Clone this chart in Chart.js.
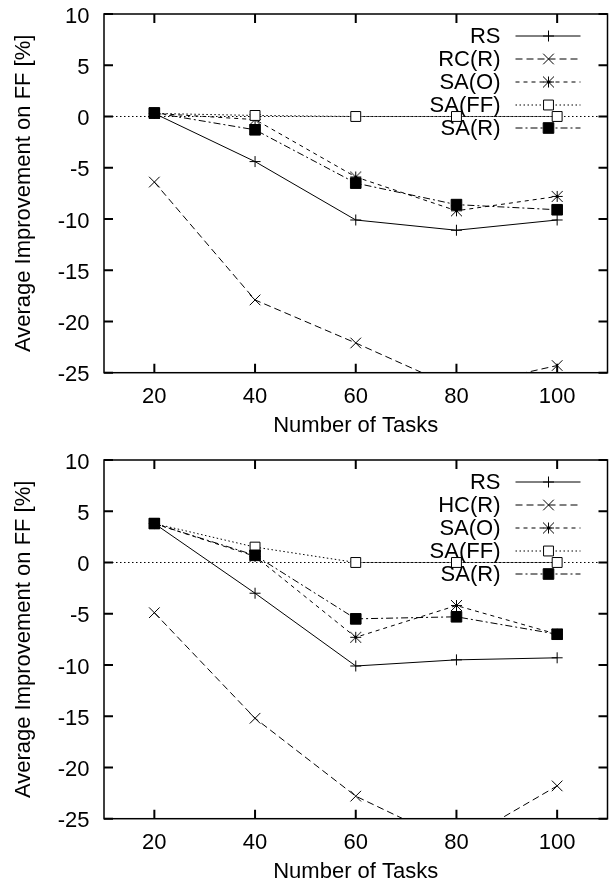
<!DOCTYPE html>
<html>
<head>
<meta charset="utf-8">
<script src="https://cdn.jsdelivr.net/npm/chart.js@4.4.1/dist/chart.umd.min.js"></script>
<style>
  html, body { margin: 0; padding: 0; background: #fff; }
  canvas { display: block; }
</style>
</head>
<body>
<canvas id="grafico-topo" width="616" height="446"></canvas>
<canvas id="grafico-base" width="616" height="446"></canvas>
<script>
const TAREFAS  = [20, 40, 60, 80, 100]
const X_TICKS  = [20, 40, 60, 80, 100]
const Y_TICKS  = [-25, -20, -15, -10, -5, 0, 5, 10]
const X_TITULO = 'Number of Tasks'
const Y_TITULO = 'Average Improvement on FF [%]'

// painel de cima
const TOPO_NOMES = ['RS', 'RC(R)', 'SA(O)', 'SA(FF)', 'SA(R)']
const TOPO_RS    = [0.3, -4.4, -10.1, -11.1, -10.1]
const TOPO_RC_R  = [-6.4, -17.9, -22.1, -26.5, -24.3]
const TOPO_SA_O  = [0.3, -0.3, -5.9, -9.2, -7.8]
const TOPO_SA_FF = [0.3, 0.1, 0, 0, 0]
const TOPO_SA_R  = [0.35, -1.3, -6.5, -8.6, -9.1]

// painel de baixo
const BASE_NOMES = ['RS', 'HC(R)', 'SA(O)', 'SA(FF)', 'SA(R)']
const BASE_RS    = [3.8, -3.0, -10.1, -9.5, -9.3]
const BASE_HC_R  = [-4.9, -15.2, -22.8, -27.5, -21.8]
const BASE_SA_O  = [3.8, 0.6, -7.3, -4.2, -7.0]
const BASE_SA_FF = [3.8, 1.5, 0, 0, 0]
const BASE_SA_R  = [3.8, 0.7, -5.5, -5.3, -7.0]

const FONTE = '"Liberation Sans", Arial, Helvetica, sans-serif'

// asterisco do gnuplot: + e x do mesmo tamanho
function criaAsterisco(s) {
  const c = document.createElement('canvas')
  const n = Math.ceil(s * 2 + 2)
  c.width = n; c.height = n
  const g = c.getContext('2d')
  const m = n / 2
  g.strokeStyle = '#000'
  g.lineWidth = 1
  g.beginPath()
  g.moveTo(m - s, m); g.lineTo(m + s, m)
  g.moveTo(m, m - s); g.lineTo(m, m + s)
  g.moveTo(m - s, m - s); g.lineTo(m + s, m + s)
  g.moveTo(m - s, m + s); g.lineTo(m + s, m - s)
  g.stroke()
  return c
}

// estilo de cada série (gnuplot: linha + marcador)
const ESTILOS = [
  { dash: [],           ponto: 'cross',            raio: 5.5, fundo: '#000' },
  { dash: [7, 4],       ponto: 'crossRot',         raio: 7.5, fundo: '#000' },
  { dash: [4, 4],       ponto: criaAsterisco(5.5), raio: 5.5, fundo: '#000' },
  { dash: [1.5, 2.5],   ponto: 'rect',             raio: 7,   fundo: '#fff' },
  { dash: [7, 3, 2, 3], ponto: 'rect',             raio: 7.5, fundo: '#000' },
]

Chart.defaults.font.family = FONTE
Chart.defaults.font.size = 22
Chart.defaults.color = '#000'

const decoracao = {
  id: 'decoracao',
  beforeDatasetsDraw(chart) {
    const { ctx, chartArea: a, scales } = chart
    const y0 = scales.y.getPixelForValue(0)
    ctx.save()
    ctx.strokeStyle = '#000'
    ctx.lineWidth = 1
    ctx.setLineDash([1.5, 2.5])
    ctx.beginPath(); ctx.moveTo(a.left, y0); ctx.lineTo(a.right, y0); ctx.stroke()
    ctx.restore()
  },
  afterDatasetsDraw(chart) {
    const { ctx, chartArea: a, scales } = chart
    ctx.save()
    ctx.strokeStyle = '#000'
    ctx.setLineDash([])
    // ticks para dentro, nos quatro lados
    ctx.lineWidth = 2
    const tl = 9
    ctx.beginPath()
    for (const v of X_TICKS) {
      const x = scales.x.getPixelForValue(v)
      ctx.moveTo(x, a.bottom); ctx.lineTo(x, a.bottom - tl)
      ctx.moveTo(x, a.top);    ctx.lineTo(x, a.top + tl)
    }
    for (const v of Y_TICKS) {
      const y = scales.y.getPixelForValue(v)
      ctx.moveTo(a.left, y);  ctx.lineTo(a.left + tl, y)
      ctx.moveTo(a.right, y); ctx.lineTo(a.right - tl, y)
    }
    ctx.stroke()
    // moldura
    ctx.lineWidth = 1.5
    ctx.strokeRect(a.left, a.top, a.right - a.left, a.bottom - a.top)

    // legenda estilo gnuplot, sem caixa
    ctx.font = `22px ${FONTE}`
    ctx.textAlign = 'right'
    ctx.textBaseline = 'middle'
    chart.data.datasets.forEach((ds, i) => {
      const y = a.top + 22 + i * 23
      ctx.fillStyle = '#000'
      ctx.fillText(ds.label, a.right - 107, y + 1)
      ctx.lineWidth = 1
      ctx.setLineDash(ds.borderDash)
      ctx.beginPath(); ctx.moveTo(a.right - 92, y); ctx.lineTo(a.right - 27, y); ctx.stroke()
      ctx.setLineDash([])
      ctx.fillStyle = ds.pointBackgroundColor
      Chart.helpers.drawPoint(ctx, { pointStyle: ds.pointStyle, radius: ds.pointRadius, borderWidth: 1, rotation: 0 }, a.right - 59, y)
    })
    ctx.restore()
  },
}

function montaSeries(nomes, series) {
  return series.map((vals, i) => {
    const e = ESTILOS[i]
    return {
      label: nomes[i],
      data: TAREFAS.map((x, k) => ({ x, y: vals[k] })),
      borderColor: '#000',
      borderWidth: 1,
      borderDash: e.dash,
      pointStyle: e.ponto,
      pointRadius: e.raio,
      pointHoverRadius: e.raio,
      pointBorderColor: '#000',
      pointBackgroundColor: e.fundo,
      pointBorderWidth: 1,
      tension: 0,
      fill: false,
      order: series.length - 1 - i,
    }
  })
}

function criaGrafico(id, nomes, series) {
  return new Chart(document.getElementById(id), {
    type: 'line',
    data: { datasets: montaSeries(nomes, series) },
    options: {
      responsive: false,
      animation: false,
      devicePixelRatio: 1,
      layout: { padding: { left: 0, right: 6, top: 14, bottom: 0 } },
      plugins: { legend: { display: false }, tooltip: { enabled: false } },
      scales: {
        x: {
          type: 'linear',
          min: 10,
          max: 110,
          afterBuildTicks: s => { s.ticks = X_TICKS.map(value => ({ value })) },
          afterFit: s => { s.height = 73.3; s.paddingLeft = 0; s.paddingRight = 0 },
          grid: { display: false, drawTicks: false },
          border: { display: false },
          ticks: { padding: 11, maxRotation: 0, callback: v => String(v) },
          title: { display: true, text: X_TITULO, padding: { top: 0, bottom: 6.5 } },
        },
        y: {
          type: 'linear',
          min: -25,
          max: 10,
          afterBuildTicks: s => { s.ticks = Y_TICKS.map(value => ({ value })) },
          afterFit: s => { s.width = 104; s.paddingTop = 0; s.paddingBottom = 0 },
          grid: { display: false, drawTicks: false },
          border: { display: false },
          ticks: { padding: 14.5, labelOffset: 2.5, callback: v => String(v) },
          title: { display: true, text: Y_TITULO, padding: { top: 11, bottom: 0 } },
        },
      },
    },
    plugins: [decoracao],
  })
}

criaGrafico('grafico-topo', TOPO_NOMES, [TOPO_RS, TOPO_RC_R, TOPO_SA_O, TOPO_SA_FF, TOPO_SA_R])
criaGrafico('grafico-base', BASE_NOMES, [BASE_RS, BASE_HC_R, BASE_SA_O, BASE_SA_FF, BASE_SA_R])
</script>
</body>
</html>
